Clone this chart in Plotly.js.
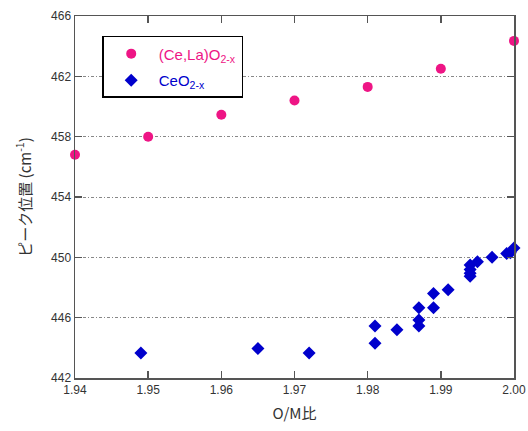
<!DOCTYPE html>
<html>
<head>
<meta charset="utf-8">
<script src="https://cdn.plot.ly/plotly-3.0.1.min.js"></script>
<style>html,body{margin:0;padding:0;background:#fff;}#chart{width:528px;height:431px;}</style>
</head>
<body>
<div id="chart"></div>
<script>
// (Ce,La)O2-x series
const laX = [1.94, 1.95, 1.96, 1.97, 1.98, 1.99, 2.00];
const laY = [456.8, 458.0, 459.45, 460.4, 461.3, 462.5, 464.35];
// CeO2-x series
const ceX = [1.949, 1.965, 1.972, 1.981, 1.981, 1.984, 1.987, 1.987, 1.987, 1.989, 1.989, 1.991, 1.994, 1.994, 1.994, 1.994, 1.995, 1.997, 1.999, 1.9995, 2.000];
const ceY = [443.65, 443.95, 443.65, 445.45, 444.3, 445.2, 446.65, 445.85, 445.45, 447.6, 446.65, 447.85, 449.5, 449.2, 448.95, 448.75, 449.7, 450.0, 450.25, 450.3, 450.62];
const xTicks = [1.94, 1.95, 1.96, 1.97, 1.98, 1.99, 2.00];
const yTicks = [442, 446, 450, 454, 458, 462, 466];
const pink = '#ee1585';
const blue = '#0000cc';

const traces = [
  {x: laX, y: laY, type: 'scatter', mode: 'markers', cliponaxis: false, legendgroup: 'a',
   name: '<span style="color:' + pink + '">(Ce,La)O<sub>2-x</sub></span>',
   marker: {symbol: 'circle', size: 10, color: pink}},
  {x: ceX, y: ceY, type: 'scatter', mode: 'markers', cliponaxis: false, legendgroup: 'b',
   name: '<span style="color:' + blue + '">CeO<sub>2-x</sub></span>',
   marker: {symbol: 'diamond', size: 10, color: blue}}
];

const axisFont = {family: 'Liberation Sans, Arial, sans-serif', size: 12, color: '#333'};
const layout = {
  width: 528, height: 431,
  margin: {l: 75, r: 14, t: 16, b: 53},
  paper_bgcolor: '#fff', plot_bgcolor: '#fff',
  showlegend: true,
  legend: {x: 0.062, y: 0.945, xanchor: 'left', yanchor: 'top',
    bordercolor: '#000', borderwidth: 1.5, bgcolor: '#fff',
    font: {family: 'Liberation Sans, Arial, sans-serif', size: 15},
    itemwidth: 45, tracegroupgap: 4},
  xaxis: {range: [1.94, 2.00], tickvals: xTicks, ticktext: xTicks.map(v => v.toFixed(2)),
    ticks: 'inside', ticklen: 7, tickwidth: 1.5, tickcolor: '#555',
    showline: true, linecolor: '#555', linewidth: 1.5, mirror: 'ticks',
    showgrid: false, zeroline: false, tickfont: axisFont,
    title: {text: 'O/M比', font: {family: 'Noto Sans CJK JP, sans-serif', size: 15, color: '#333'}, standoff: 12}},
  yaxis: {range: [442, 466], tickvals: yTicks, ticktext: yTicks.map(String),
    ticks: 'inside', ticklen: 7, tickwidth: 1.5, tickcolor: '#555',
    showline: true, linecolor: '#555', linewidth: 1.5, mirror: 'ticks',
    showgrid: true, gridcolor: '#888', griddash: '3px,2px,1px,2px', gridwidth: 1,
    zeroline: false, tickfont: axisFont,
    title: {text: 'ピーク位置 (cm<sup>-1</sup>)', font: {family: 'Noto Sans CJK JP, sans-serif', size: 15, color: '#333'}, standoff: 16}}
};

Plotly.newPlot('chart', traces, layout, {staticPlot: true, displayModeBar: false});
</script>
</body>
</html>
